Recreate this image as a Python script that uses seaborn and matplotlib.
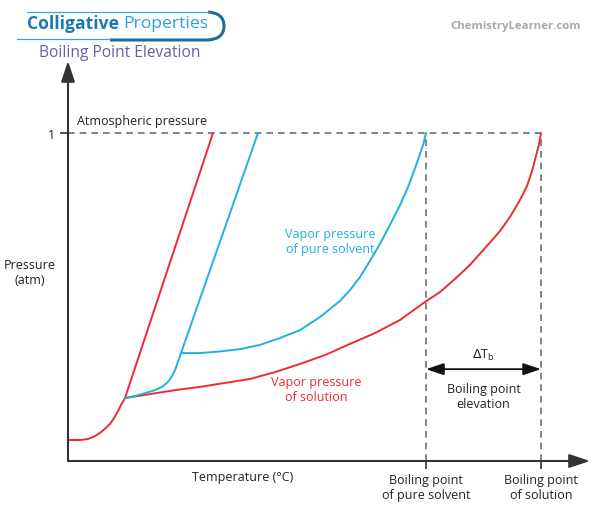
import matplotlib
matplotlib.use("Agg")
import matplotlib.pyplot as plt
import seaborn as sns
import pandas as pd
from matplotlib.lines import Line2D
from matplotlib.path import Path
from matplotlib.patches import PathPatch

sns.set_theme(style="white")
plt.rcParams['font.family'] = ['Open Sans', 'DejaVu Sans']

# ---- data (temperature in arbitrary units, pressure in atm) ----
solid_sol_T = [0, 1.2, 2.0, 2.7, 3.3, 3.8, 4.2, 4.6, 5.0, 5.3, 5.7, 14.5]
solid_sol_P = [0.064, 0.064, 0.067, 0.076, 0.088, 0.101, 0.113, 0.131, 0.152, 0.171, 0.192, 1.0]

solid_pure_T = [5.7, 6.7, 7.7, 8.7, 9.4, 10.0, 10.4, 10.7, 11.0, 11.3, 19.0]
solid_pure_P = [0.192, 0.198, 0.207, 0.216, 0.226, 0.241, 0.259, 0.277, 0.302, 0.329, 1.0]

vap_pure_T = [11.3, 13.2, 15.2, 17.2, 19.2, 21.2, 23.2, 25.2, 27.2, 28.2, 29.2, 30.2,
              31.2, 32.2, 33.2, 34.0, 34.6, 35.1, 35.5, 35.8]
vap_pure_P = [0.329, 0.329, 0.334, 0.341, 0.354, 0.375, 0.399, 0.439, 0.488, 0.521, 0.561, 0.610,
              0.662, 0.720, 0.780, 0.835, 0.884, 0.927, 0.963, 1.0]

vap_sol_T = [5.7, 8.2, 10.7, 13.2, 15.7, 18.2, 20.7, 23.2, 25.7, 28.2, 30.7, 33.2, 35.7,
             37.2, 38.7, 40.2, 41.7, 43.2, 44.2, 45.2, 45.9, 46.4, 46.8, 47.1, 47.3]
vap_sol_P = [0.192, 0.204, 0.216, 0.226, 0.238, 0.250, 0.271, 0.296, 0.323, 0.357, 0.390, 0.430, 0.485,
             0.515, 0.555, 0.598, 0.649, 0.701, 0.744, 0.796, 0.838, 0.884, 0.930, 0.966, 1.0]

boiling_T = [35.8, 47.3]
boiling_labels = ["Boiling point\nof pure solvent", "Boiling point\nof solution"]
atm_P = 1.0

RED = "#ee2a35"
BLUE = "#1fb0e6"
AXC = "#333333"
DASH = "#6e6e6e"

fig = plt.figure(figsize=(6, 5.1), dpi=100)
ax = fig.add_axes([68/600, 48/510, 522/600, 400/510])
ax.set_xlim(0, 52.2)
ax.set_ylim(0, 400/328)
for s in ax.spines.values():
    s.set_visible(False)
ax.grid(False)

def curve(T, P, color):
    df = pd.DataFrame({"T": T, "P": P})
    sns.lineplot(data=df, x="T", y="P", sort=False, estimator=None,
                 color=color, lw=1.4, ax=ax)
    ax.lines[-1].set_solid_joinstyle('round')

curve(solid_sol_T, solid_sol_P, RED)
curve(vap_sol_T, vap_sol_P, RED)
curve(solid_pure_T, solid_pure_P, BLUE)
curve(vap_pure_T, vap_pure_P, BLUE)

# dashed reference lines
dash = (0, (4, 3))
ax.hlines(atm_P, 0, boiling_T[1], colors=DASH, linestyles=dash, lw=1.2, zorder=1)
for t in boiling_T:
    ax.vlines(t, 0, atm_P, colors=DASH, linestyles=dash, lw=1.2, zorder=1)

# axes with arrows
for tip in [(1, 0), (0, 1)]:
    ax.annotate('', xy=tip, xytext=(0, 0), xycoords='axes fraction',
                arrowprops=dict(arrowstyle='-|>,head_length=0.9,head_width=0.3',
                                color=AXC, lw=1.5, mutation_scale=14,
                                shrinkA=0, shrinkB=0))

# ticks
ax.set_xticks(boiling_T)
ax.set_xticklabels(boiling_labels, fontsize=9, color="#222222", linespacing=1.15)
ax.set_yticks([atm_P])
ax.set_yticklabels(["1"], fontsize=9, color="#222222")
ax.tick_params(axis='both', which='both', direction='out', length=6,
               width=1.2, color=AXC, bottom=True, left=True, pad=3)
ax.set_xlabel("")
ax.set_ylabel("")

# delta T arrow
yarr = 0.280
ax.annotate('', xy=(boiling_T[1], yarr), xytext=(boiling_T[0], yarr),
            arrowprops=dict(arrowstyle='<|-|>,head_length=0.9,head_width=0.3',
                            color="#111111", lw=1.3, mutation_scale=12,
                            shrinkA=0, shrinkB=0))
mid = (boiling_T[0] + boiling_T[1]) / 2
ax.text(mid, 0.326, r"$\Delta$T$_\mathregular{b}$", ha='center', va='center',
        fontsize=9, color="#222222")
ax.text(mid, 0.198, "Boiling point\nelevation", ha='center', va='center',
        fontsize=9, color="#222222", linespacing=1.25)

# curve labels
ax.text(26.2, 0.671, "Vapor pressure\nof pure solvent", ha='center', va='center',
        fontsize=9, color=BLUE, linespacing=1.25)
ax.text(24.8, 0.220, "Vapor pressure\nof solution", ha='center', va='center',
        fontsize=9, color=RED, linespacing=1.25)
ax.text(0.9, 1.037, "Atmospheric pressure", ha='left', va='center',
        fontsize=9, color="#222222")

# axis titles
fig.text(30/600, 1 - 273/510, "Pressure\n(atm)", ha='center', va='center',
         fontsize=9, color="#222222", linespacing=1.25)
fig.text(243/600, 1 - 478/510, "Temperature (\u00b0C)", ha='center', va='center',
         fontsize=9, color="#222222")

# header
def fx(x): return x / 600
def fy(y): return 1 - y / 510

t1 = fig.text(fx(27), fy(24), "Colligative", ha='left', va='center',
              fontsize=12.6, fontweight='bold', color="#1b78ad")
fig.canvas.draw()
bb = t1.get_window_extent(fig.canvas.get_renderer())
x2 = bb.x1 / fig.bbox.width + 4/600
fig.text(x2, fy(24), "Properties", ha='left', va='center',
         fontsize=12.6, color="#2aa3d8")
fig.text(fx(120), fy(53), "Boiling Point Elevation", ha='center', va='center',
         fontsize=11.2, color="#6a5aa8")
fig.text(fx(516), fy(26), "ChemistryLearner.com", ha='center', va='center',
         fontsize=8.2, fontweight='bold', color="#a8a8a4")

# decorative frame around header title
fig.add_artist(Line2D([fx(27), fx(208)], [fy(13), fy(13)], transform=fig.transFigure,
                      color="#3aa2d4", lw=0.9))
fig.add_artist(Line2D([fx(17), fx(110)], [fy(40), fy(40)], transform=fig.transFigure,
                      color="#3aa2d4", lw=0.9))
verts = [(fx(208), fy(13)), (fx(224), fy(14)), (fx(224), fy(27)),
         (fx(224), fy(40)), (fx(208), fy(41)), (fx(110), fy(41))]
codes = [Path.MOVETO, Path.CURVE3, Path.CURVE3, Path.CURVE3, Path.CURVE3, Path.LINETO]
fig.add_artist(PathPatch(Path(verts, codes), transform=fig.transFigure,
                         facecolor='none', edgecolor="#1b6f9c", lw=2.2))

fig.savefig("out.png", dpi=100)
